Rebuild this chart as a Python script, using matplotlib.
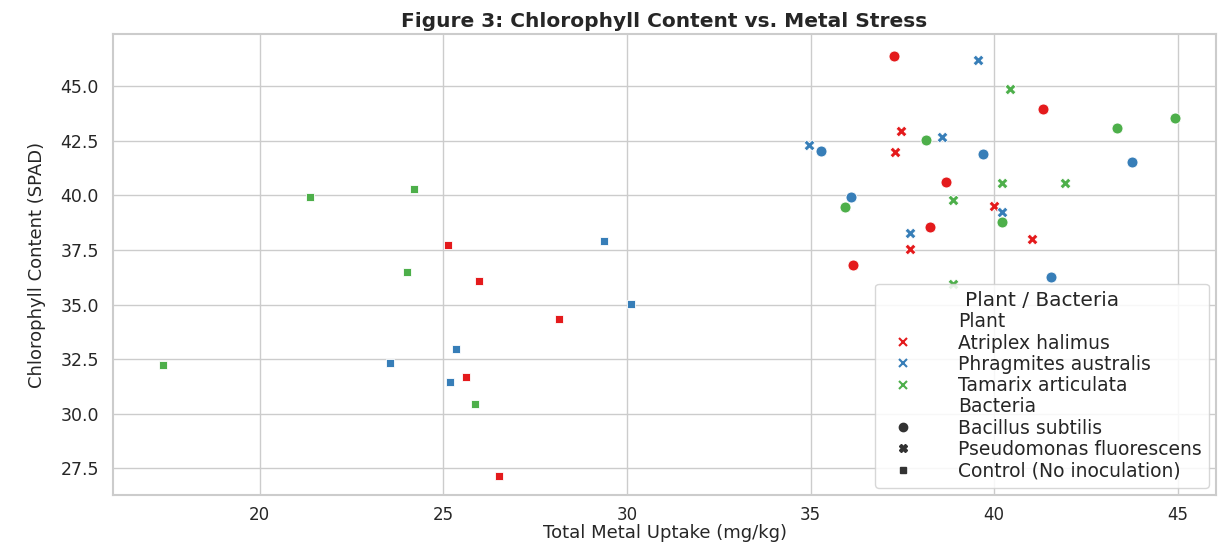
#!/usr/bin/env python
"""Figure 3: chlorophyll content against total metal uptake per plant / bacteria."""

import matplotlib

matplotlib.use("Agg")
import matplotlib.pyplot as plt
import seaborn as sns
from matplotlib.lines import Line2D
from matplotlib.ticker import FormatStrFormatter


PLANTS = ["Atriplex halimus", "Phragmites australis", "Tamarix articulata"]
BACTERIA = ["Bacillus subtilis", "Pseudomonas fluorescens", "Control (No inoculation)"]

# treatment of each replicate, same order for every plant
TREATMENT = [0] * 5 + [1] * 5 + [2] * 5

ATRIPLEX_UPTAKE = [37.27, 41.34, 38.68, 38.25, 36.15,
                   37.47, 37.30, 40.00, 41.03, 37.70,
                   25.12, 25.97, 28.16, 25.62, 26.53]
ATRIPLEX_SPAD = [46.41, 43.94, 40.60, 38.54, 36.81,
                 42.97, 41.97, 39.50, 38.02, 37.55,
                 37.74, 36.06, 34.34, 31.68, 27.13]

PHRAGMITES_UPTAKE = [35.28, 39.69, 43.76, 36.09, 41.54,
                     39.56, 38.57, 34.95, 40.20, 37.70,
                     29.38, 30.11, 25.35, 23.56, 25.17]
PHRAGMITES_SPAD = [42.03, 41.90, 41.52, 39.91, 36.24,
                   46.23, 42.68, 42.32, 39.24, 38.30,
                   37.90, 35.03, 32.96, 32.33, 31.43]

TAMARIX_UPTAKE = [44.92, 43.34, 38.14, 35.93, 40.21,
                  40.43, 40.22, 41.92, 38.87, 38.89,
                  21.38, 24.21, 24.00, 17.37, 25.86]
TAMARIX_SPAD = [43.56, 43.07, 42.52, 39.46, 38.78,
                44.86, 40.58, 40.55, 39.80, 35.93,
                39.92, 40.29, 36.49, 32.22, 30.44]

X_TICKS = [20, 25, 30, 35, 40, 45]
Y_TICKS = [27.5, 30.0, 32.5, 35.0, 37.5, 40.0, 42.5, 45.0]

COLORS = ["#e41a1c", "#377eb8", "#4daf4a"]
MARKERS = ["o", "X", "s"]
SIZES = [62, 62, 30]


def main():
    sns.set_theme(style="whitegrid")
    plt.rcParams["font.family"] = ["DejaVu Sans"]

    fig = plt.figure(figsize=(12.25, 5.43), dpi=100)
    ax = fig.add_axes([0.092, 0.088, 0.901, 0.849])

    series = [
        (ATRIPLEX_UPTAKE, ATRIPLEX_SPAD),
        (PHRAGMITES_UPTAKE, PHRAGMITES_SPAD),
        (TAMARIX_UPTAKE, TAMARIX_SPAD),
    ]
    for color, (xs, ys) in zip(COLORS, series):
        for b, marker in enumerate(MARKERS):
            px = [x for x, t in zip(xs, TREATMENT) if t == b]
            py = [y for y, t in zip(ys, TREATMENT) if t == b]
            ax.scatter(px, py, s=SIZES[b], marker=marker, color=color,
                       edgecolor="white", linewidth=0.6, zorder=3)

    ax.set_xlim(16.0, 46.05)
    ax.set_ylim(26.26, 47.39)
    ax.set_xticks(X_TICKS)
    ax.set_yticks(Y_TICKS)
    ax.yaxis.set_major_formatter(FormatStrFormatter("%.1f"))
    ax.tick_params(labelsize=12.5, colors="#262626", pad=4)
    ax.tick_params(axis="x", labelsize=12, pad=2)
    for spine in ax.spines.values():
        spine.set_color("#cccccc")
        spine.set_linewidth(1.5)

    ax.set_xlabel("Total Metal Uptake (mg/kg)", fontsize=13, labelpad=0)
    ax.set_ylabel("Chlorophyll Content (SPAD)", fontsize=13, labelpad=10)
    ax.set_title("Figure 3: Chlorophyll Content vs. Metal Stress",
                 fontsize=14.5, fontweight="bold", pad=5)

    blank = Line2D([], [], linestyle="none", marker="")
    handles = [blank]
    labels = ["Plant"]
    for plant, color in zip(PLANTS, COLORS):
        handles.append(Line2D([], [], linestyle="none", marker="x",
                              color=color, markersize=6, markeredgewidth=1.5))
        labels.append(plant)
    handles.append(blank)
    labels.append("Bacteria")
    for bact, marker in zip(BACTERIA, MARKERS):
        handles.append(Line2D([], [], linestyle="none", marker=marker,
                              color="#333333", markersize=6 if marker != "s" else 5))
        labels.append(bact)

    leg = ax.legend(handles, labels, title="Plant / Bacteria", loc="lower right",
                    fontsize=13.5, title_fontsize=14.5, labelspacing=0.12,
                    handlelength=2.2, handletextpad=1.8, borderaxespad=0.4,
                    framealpha=0.85)
    leg.get_frame().set_edgecolor("#d0d0d0")

    fig.savefig("out.png", dpi=100)
    plt.close(fig)


if __name__ == "__main__":
    main()
